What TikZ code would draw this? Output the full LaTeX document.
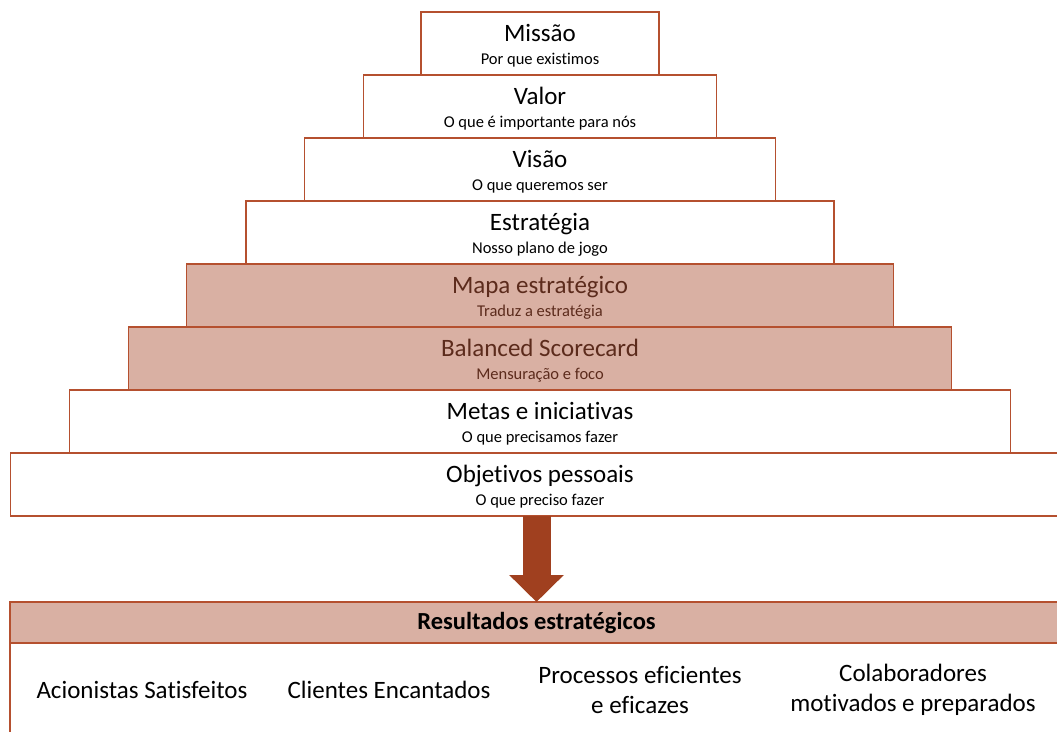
\documentclass[tikz,border=0pt]{standalone}
\usepackage{fontspec}
\setmainfont{Carlito}[Ligatures=NoCommon]
\usetikzlibrary{%
    arrows.meta,
    positioning
}
\definecolor{tijolo}{HTML}{B5502F}
\definecolor{rosado}{HTML}{D9B0A3}
\definecolor{seta}{HTML}{A0401F}
\definecolor{marrom}{HTML}{5C2B1C}
\newcommand{\titulo}[1]{{\fontsize{25}{25}\selectfont #1}}
\tikzset{
    tier/.style={draw=tijolo, line width=1.5pt, fill=white, outer sep=0pt,
        inner sep=0pt, minimum height=63pt, align=center,
        text height=46pt, text depth=4pt,
        font=\fontsize{16.5}{23.5}\selectfont},
    tiercheio/.style={tier, fill=rosado, text=marrom},
    item/.style={align=center, font=\fontsize{25}{30}\selectfont}
}

\begin{document}
\begin{tikzpicture}[x=1pt, y=-1pt]
    \useasboundingbox (0,0) rectangle (1057,731);

    \node[tier, minimum width=238pt] (missao) at (540,43.5)
        {\titulo{Missão}\\Por que existimos};
    \node[tier, minimum width=353pt] (valor) [below=0pt of missao]
        {\titulo{Valor}\\O que é importante para nós};
    \node[tier, minimum width=471pt] (visao) [below=0pt of valor]
        {\titulo{Visão}\\O que queremos ser};
    \node[tier, minimum width=588pt] (estrategia) [below=0pt of visao]
        {\titulo{Estratégia}\\Nosso plano de jogo};
    \node[tiercheio, minimum width=707pt] (mapa) [below=0pt of estrategia]
        {\titulo{Mapa estratégico}\\Traduz a estratégia};
    \node[tiercheio, minimum width=823pt] (bsc) [below=0pt of mapa]
        {\titulo{Balanced Scorecard}\\Mensuração e foco};
    \node[tier, minimum width=941pt] (metas) [below=0pt of bsc]
        {\titulo{Metas e iniciativas}\\O que precisamos fazer};
    \node[tier, minimum width=1059pt] (objetivos) [below=0pt of metas]
        {\titulo{Objetivos pessoais}\\O que preciso fazer};

    \node[draw=tijolo, line width=1.5pt, outer sep=0pt, minimum width=1053pt,
        minimum height=160pt] (resultados) at (536.5,682) {};
    \node[draw=tijolo, fill=rosado, line width=1.5pt, outer sep=0pt,
        minimum width=1053pt, minimum height=41pt,
        font=\fontsize{24.5}{24.5}\selectfont\bfseries] (cabecalho)
        [below=0pt of resultados.north] {Resultados estratégicos};

    \draw[seta, line width=28pt, -{Triangle[length=27pt, width=53pt]}]
        (cabecalho.north |- objetivos.south) -- (cabecalho.north);

    \node[item] (acionistas)    at (142,690) {Acionistas Satisfeitos};
    \node[item] (clientes)      at (389,690) {Clientes Encantados};
    \node[item] (processos)     at (640,690) {Processos eficientes\\e eficazes};
    \node[item] (colaboradores) at (913,690) {Colaboradores\\motivados e preparados};
\end{tikzpicture}
\end{document}
